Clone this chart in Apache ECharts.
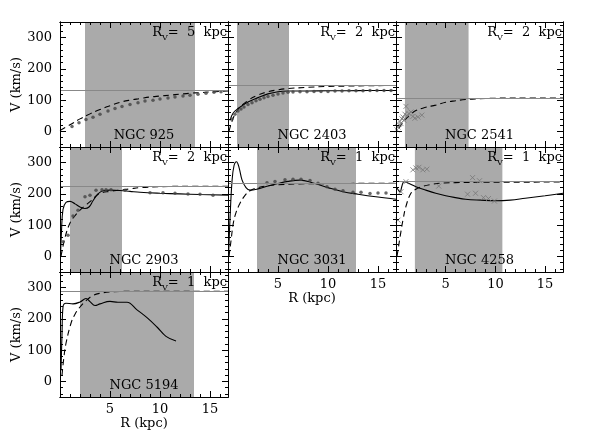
<!DOCTYPE html>
<html>
<head>
<meta charset="utf-8">
<script src="https://cdn.jsdelivr.net/npm/echarts@6/dist/echarts.min.js"></script>
<style>
  html, body { margin: 0; padding: 0; background: #fff; }
  #chart { width: 598px; height: 447px; }
</style>
</head>
<body>
<div id="chart"></div>
<script>
// axis ticks
const XMAX = 16.8;
const xMajor = [5, 10, 15];
const xMinor = [1, 2, 3, 4, 6, 7, 8, 9, 11, 12, 13, 14, 16];
const yMajor = [0, 100, 200, 300];
const yMinor = [-40, -20, 20, 40, 60, 80, 120, 140, 160, 180, 220, 240, 260, 280, 320, 340];

// NGC 925
const band925 = [2.5, 13.5];
const flat925 = 131;
const dashR925 = [0, 1, 2, 3, 4, 5, 6, 7, 8, 9, 10, 11, 12, 13, 14, 15, 16.8];
const dashV925 = [3, 21, 40, 56, 70, 82, 93, 100, 105, 110, 113, 116, 119, 122, 124, 126, 129];
const obsR925 = [1.2, 1.9, 2.6, 3.3, 4.0, 4.8, 5.5, 6.2, 7.0, 7.8, 8.5, 9.3, 10.0, 10.8, 11.5, 12.3, 13.0, 13.8, 14.6, 15.4, 16.1];
const obsV925 = [16, 28, 38, 45, 55, 65, 73, 80, 86, 92, 97, 100, 104, 107, 110, 113, 116, 119, 122, 125, 127];

// NGC 2403
const band2403 = [0.9, 6.1];
const flat2403 = 147;
const solR2403 = [0.2, 0.5, 1, 2, 3, 4, 5, 6, 8, 10, 12, 14, 16.8];
const solV2403 = [35, 58, 73, 94, 108, 120, 127, 129, 129, 130, 130, 131, 131];
const dashR2403 = [0.1, 0.5, 1, 2, 3, 4, 5, 6, 8, 10, 12, 14, 16.8];
const dashV2403 = [0, 41, 70, 99, 116, 127, 133, 137, 141, 144, 145, 146, 147];
const obsR2403 = [0.4, 0.7, 1, 1.3, 1.6, 2, 2.4, 2.8, 3.2, 3.6, 4, 4.5, 5, 5.5, 6, 6.5, 7.2, 7.9, 8.6, 9.3, 10, 10.7, 11.4, 12.1, 12.8, 13.5, 14.2, 14.9, 15.6, 16.3];
const obsV2403 = [40, 55, 65, 72, 78, 86, 92, 98, 103, 108, 112, 116, 120, 123, 125, 126, 127, 127, 128, 128, 128, 129, 129, 130, 130, 130, 131, 131, 131, 131];

// NGC 2541
const band2541 = [0.9, 7.3];
const flat2541 = 107;
const dashR2541 = [0.3, 0.6, 1, 1.5, 2, 3, 4, 5, 6, 7, 8, 10, 12, 16.8];
const dashV2541 = [10, 25, 40, 55, 67, 77, 84, 93, 98, 102, 104, 106, 107, 107];
const obsR2541 = [0.1, 0.2, 0.3, 0.4, 0.5, 0.6, 0.7, 0.8, 0.9, 1.0, 1.1, 1.3, 1.5, 1.7, 1.9, 2.2, 2.6];
const obsV2541 = [5, 14, 22, 32, 25, 40, 46, 36, 55, 80, 50, 57, 62, 48, 42, 46, 52];

// NGC 2903
const band2903 = [1.0, 6.2];
const flat2903 = 224;
const solR2903 = [0.05, 0.15, 0.3, 0.6, 1.0, 1.5, 2.0, 2.5, 2.9, 3.3, 3.8, 4.3, 5, 6, 7, 8, 10, 12, 14, 16.8];
const solV2903 = [0, 80, 150, 173, 176, 168, 158, 153, 158, 178, 200, 210, 212, 211, 208, 205, 202, 200, 198, 196];
const dashR2903 = [0.1, 0.5, 1, 1.5, 2, 2.5, 3, 3.5, 4, 5, 6, 7, 8, 10, 12, 16.8];
const dashV2903 = [0, 60, 107, 130, 148, 162, 175, 190, 202, 208, 212, 216, 220, 223, 224, 224];
const obsR2903 = [0.3, 0.8, 1.3, 1.8, 2.5, 3.0, 3.6, 4.2, 4.6, 5.1, 6.5, 9, 10.3, 11.5, 12.8, 14, 15.3];
const obsV2903 = [47, 68, 129, 148, 191, 196, 212, 213, 213, 213, 212, 204, 204, 202, 200, 199, 196];

// NGC 3031
const band3031 = [2.9, 12.8];
const flat3031 = 234;
const solR3031 = [0.05, 0.2, 0.4, 0.6, 0.85, 1.1, 1.4, 1.8, 2.2, 3, 4, 5, 6, 7.2, 8.5, 10, 11.5, 13, 15, 16.8];
const solV3031 = [0, 120, 240, 290, 303, 285, 245, 220, 212, 216, 225, 233, 240, 244, 235, 220, 207, 199, 190, 183];
const dashR3031 = [0.1, 0.3, 0.53, 0.8, 1.2, 1.7, 2.2, 3, 4, 5, 7, 10, 16.8];
const dashV3031 = [0, 50, 106, 140, 170, 195, 210, 220, 226, 229, 232, 233, 234];
const obsR3031 = [3.9, 4.7, 5.7, 6.5, 7.3, 8.2, 9, 9.9, 10.7, 11.5, 12.5, 13.3, 14.2, 15, 15.8];
const obsV3031 = [236, 240, 245, 247, 247, 243, 234, 223, 215, 210, 205, 205, 201, 203, 203];

// NGC 4258
const band4258 = [1.9, 10.7];
const flat4258 = 239;
const solR4258 = [0, 0.2, 0.4, 0.6, 0.8, 1.2, 2, 3, 4, 5, 6, 7, 8.5, 10, 11.5, 13, 15, 16.8];
const solV4258 = [222, 214, 206, 225, 239, 235, 223, 212, 202, 194, 188, 183, 180, 178, 180, 186, 194, 202];
const dashR4258 = [0.1, 0.2, 0.5, 0.7, 1.0, 1.5, 2, 2.8, 3.5, 4.4, 6, 8, 16.8];
const dashV4258 = [0, 20, 80, 116, 160, 202, 215, 225, 230, 234, 236, 237, 238];
const obsR4258 = [0.2, 0.5, 1.0, 1.7, 2.0, 2.3, 2.7, 3.1, 4.3, 7.2, 7.7, 8.0, 8.4, 8.8, 9.3, 9.9];
const obsV4258 = [116, 207, 239, 277, 283, 285, 277, 279, 225, 199, 252, 202, 242, 188, 185, 177];

// NGC 5194
const band5194 = [2.0, 13.4];
const flat5194 = 288;
const solR5194 = [0.1, 0.2, 0.3, 0.6, 1.3, 2.0, 2.6, 3.0, 3.5, 4, 5, 5.8, 6.7, 7.7, 8.7, 9.7, 10.6, 11.6];
const solV5194 = [35, 150, 238, 250, 248, 254, 265, 255, 243, 248, 256, 253, 253, 229, 204, 174, 144, 129];
const dashR5194 = [0.2, 0.4, 0.6, 1.1, 1.5, 2.0, 2.6, 3.3, 4, 5, 7, 10, 16.8];
const dashV5194 = [20, 80, 122, 186, 215, 238, 258, 275, 282, 286, 288, 288, 288];

const pair = (xs, ys) => xs.map((x, i) => [x, ys[i]]);

const panels = [
    {name: 'NGC 925', rv: '5', col: 0, row: 0, band: band925, flat: flat925, dash: pair(dashR925, dashV925), pts: pair(obsR925, obsV925), ptype: 'dot'},
    {name: 'NGC 2403', rv: '2', col: 1, row: 0, band: band2403, flat: flat2403, sol: pair(solR2403, solV2403), dash: pair(dashR2403, dashV2403), pts: pair(obsR2403, obsV2403), ptype: 'dot'},
    {name: 'NGC 2541', rv: '2', col: 2, row: 0, band: band2541, flat: flat2541, dash: pair(dashR2541, dashV2541), pts: pair(obsR2541, obsV2541), ptype: 'cross'},
    {name: 'NGC 2903', rv: '2', col: 0, row: 1, band: band2903, flat: flat2903, sol: pair(solR2903, solV2903), dash: pair(dashR2903, dashV2903), pts: pair(obsR2903, obsV2903), ptype: 'dot'},
    {name: 'NGC 3031', rv: '1', col: 1, row: 1, band: band3031, flat: flat3031, sol: pair(solR3031, solV3031), dash: pair(dashR3031, dashV3031), pts: pair(obsR3031, obsV3031), ptype: 'dot', xlab: true, xname: true},
    {name: 'NGC 4258', rv: '1', col: 2, row: 1, band: band4258, flat: flat4258, sol: pair(solR4258, solV4258), dash: pair(dashR4258, dashV4258), pts: pair(obsR4258, obsV4258), ptype: 'cross', xlab: true},
    {name: 'NGC 5194', rv: '1', col: 0, row: 2, band: band5194, flat: flat5194, sol: pair(solR5194, solV5194), dash: pair(dashR5194, dashV5194), xlab: true, xname: true}
];

const colLeft = [60, 228, 396], colW = [168, 168, 167];
const rowTop = [22, 147, 272], rowH = 125;
const FONT = 'DejaVu Serif';

const grids = [], xAxes = [], yAxes = [], series = [], graphics = [];

function tickAxis(gi, pos, isX, vals, len, label, name) {
    const ax = {
        type: 'value', gridIndex: gi, position: pos, z: 5,
        min: isX ? 0 : -50, max: isX ? XMAX : 350,
        axisLine: {show: true, onZero: false, lineStyle: {color: '#000', width: 1}},
        axisTick: {show: true, inside: true, length: len, customValues: vals, lineStyle: {color: '#000', width: 1}},
        axisLabel: {show: !!label, customValues: vals, color: '#000', fontFamily: FONT, fontSize: 13, margin: isX ? 6 : 8},
        splitLine: {show: false}
    };
    if (name) {
        ax.name = name;
        ax.nameLocation = 'middle';
        ax.nameGap = isX ? 19 : 34;
        ax.nameTextStyle = {color: '#000', fontFamily: FONT, fontSize: 13};
    }
    return ax;
}

panels.forEach((p, gi) => {
    const left = colLeft[p.col], top = rowTop[p.row], w = colW[p.col];
    grids.push({left: left, top: top, width: w, height: rowH});
    const xi = xAxes.length, yi = yAxes.length;
    xAxes.push(tickAxis(gi, 'bottom', true, xMajor, 6, p.xlab, p.xname ? 'R (kpc)' : null));
    xAxes.push(tickAxis(gi, 'bottom', true, xMinor, 3));
    xAxes.push(tickAxis(gi, 'top', true, xMajor, 6));
    xAxes.push(tickAxis(gi, 'top', true, xMinor, 3));
    yAxes.push(tickAxis(gi, 'left', false, yMajor, 6, p.col === 0, p.col === 0 ? 'V (km/s)' : null));
    yAxes.push(tickAxis(gi, 'left', false, yMinor, 3));
    yAxes.push(tickAxis(gi, 'right', false, yMajor, 6));
    yAxes.push(tickAxis(gi, 'right', false, yMinor, 3));

    // shaded region + flat velocity line
    series.push({
        type: 'line', xAxisIndex: xi, yAxisIndex: yi, data: [], z: 1, silent: true,
        markArea: {silent: true, itemStyle: {color: '#aaaaaa', opacity: 1}, data: [[{xAxis: p.band[0]}, {xAxis: p.band[1]}]]},
        markLine: {silent: true, symbol: 'none', label: {show: false}, lineStyle: {color: '#888', width: 1, type: 'solid'}, data: [{yAxis: p.flat}]}
    });
    if (p.sol) {
        series.push({type: 'line', xAxisIndex: xi, yAxisIndex: yi, data: p.sol, smooth: 0.4, showSymbol: false, z: 3,
            lineStyle: {color: '#000', width: 1.1}});
    }
    if (p.dash) {
        series.push({type: 'line', xAxisIndex: xi, yAxisIndex: yi, data: p.dash, smooth: 0.4, showSymbol: false, z: 3,
            lineStyle: {color: '#000', width: 1.1, type: [6, 4]}});
    }
    if (p.pts) {
        const cross = p.ptype === 'cross';
        series.push({type: 'scatter', xAxisIndex: xi, yAxisIndex: yi, data: p.pts, z: 4,
            symbol: cross ? 'path://M0,0L10,10M10,0L0,10' : 'circle',
            symbolSize: cross ? 5 : 3.5,
            itemStyle: cross ? {color: 'none', borderColor: '#777', borderWidth: 1} : {color: '#444'}});
    }

    graphics.push({type: 'text', x: left + w / 2, y: top + rowH - 11, z: 10,
        style: {text: p.name, fontFamily: FONT, fontSize: 13, fill: '#000', align: 'center', verticalAlign: 'middle'}});
    graphics.push({type: 'text', x: left + w - 1, y: top + 11, z: 10,
        style: {text: 'R{s|V}=  ' + p.rv + '  kpc', fontFamily: FONT, fontSize: 13, fill: '#000', align: 'right', verticalAlign: 'middle',
            rich: {s: {fontFamily: FONT, fontSize: 8, fill: '#000', padding: [9, 0, 0, 0]}}}});
});

const chart = echarts.init(document.getElementById('chart'));
chart.setOption({
    animation: false,
    backgroundColor: '#fff',
    grid: grids,
    xAxis: xAxes,
    yAxis: yAxes,
    series: series,
    graphic: graphics
});
</script>
</body>
</html>
